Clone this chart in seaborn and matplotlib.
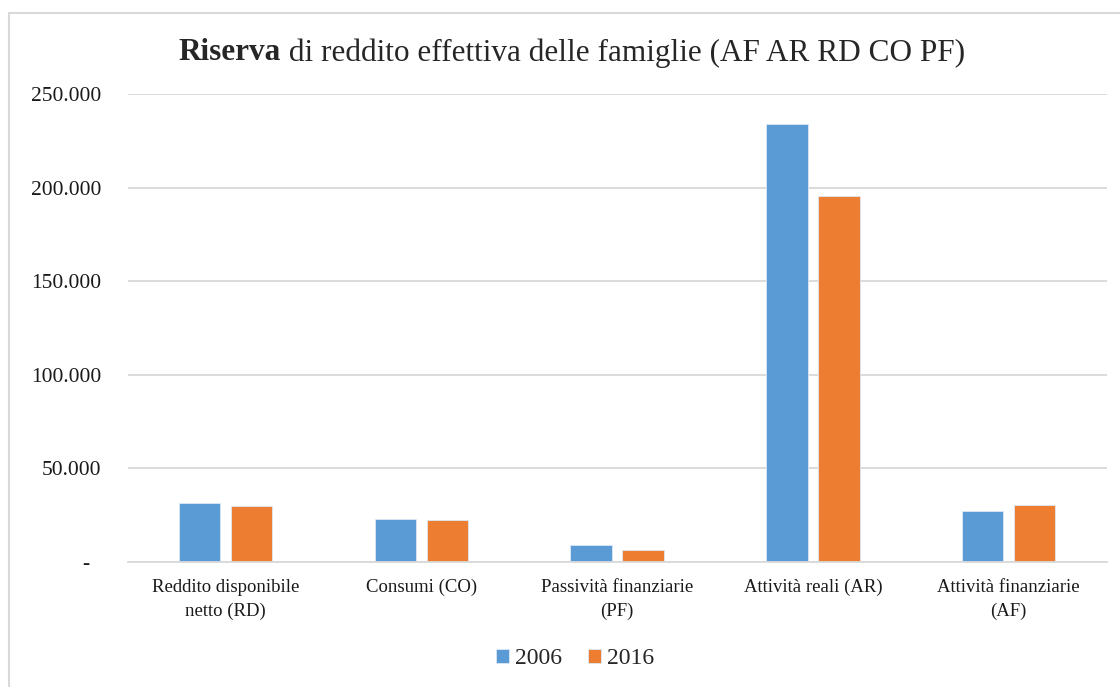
import pandas as pd
import seaborn as sns
import matplotlib.pyplot as plt
from matplotlib.patches import Rectangle
from matplotlib.ticker import FuncFormatter

# dati
categorie = ["Reddito disponibile\nnetto (RD)", "Consumi (CO)",
             "Passività finanziarie\n(PF)", "Attività reali (AR)",
             "Attività finanziarie\n(AF)"]
anni = ["2006", "2016"]
valori_2006 = [31400, 22800, 9100, 234000, 27400]
valori_2016 = [29900, 22300, 6200, 195500, 30300]
colori = ["#5B9BD5", "#ED7D31"]

df = pd.DataFrame({
    "categoria": categorie * 2,
    "anno": [anni[0]] * len(categorie) + [anni[1]] * len(categorie),
    "valore": valori_2006 + valori_2016,
})

sns.set_theme(style="white")
plt.rcParams["font.family"] = ["Liberation Serif", "DejaVu Serif"]

fig = plt.figure(figsize=(11.2, 6.87), dpi=100)
ax = fig.add_axes([0.114, 0.182, 0.874, 0.681])

sns.barplot(data=df, x="categoria", y="valore", hue="anno", palette=colori,
            saturation=1, width=0.53, gap=0.2, edgecolor="#DDE8F5",
            linewidth=0.6, ax=ax)

ax.set_ylim(0, 250000)
ax.set_yticks(range(0, 250001, 50000))
ax.yaxis.set_major_formatter(FuncFormatter(
    lambda v, p: "-  " if v == 0 else f"{int(v):,}".replace(",", ".")))
ax.grid(axis="y", color="#D9D9D9", linewidth=1.3)
ax.set_axisbelow(True)
for s in ["top", "right", "left"]:
    ax.spines[s].set_visible(False)
ax.spines["bottom"].set_color("#D9D9D9")
ax.spines["bottom"].set_linewidth(1.3)
ax.tick_params(axis="y", length=0, pad=19, labelsize=15.5, labelcolor="#1a1a1a")
ax.tick_params(axis="x", length=0, pad=12, labelsize=13.5, labelcolor="#1a1a1a")
for t in ax.get_xticklabels():
    t.set_linespacing(1.5)
ax.set_xlabel("")
ax.set_ylabel("")

ax.legend(loc="lower center", bbox_to_anchor=(0.457, -0.275), ncol=2,
          frameon=False, fontsize=17, handlelength=0.55, handleheight=0.55,
          handletextpad=0.25, columnspacing=1.1, bbox_transform=ax.transAxes)

# titolo con parte in grassetto
fig.canvas.draw()
r = fig.canvas.get_renderer()
t1 = fig.text(0, 0.923, "Riserva", fontsize=22.5, fontweight="bold",
              ha="left", va="center")
t2 = fig.text(0, 0.923, " di reddito effettiva delle famiglie (AF AR RD CO PF)",
              fontsize=22.5, ha="left", va="center")
w1 = t1.get_window_extent(r).width
w2 = t2.get_window_extent(r).width
x0 = (fig.bbox.width * 0.5105 - (w1 + w2) / 2) / fig.bbox.width
t1.set_x(x0)
t2.set_x(x0 + w1 / fig.bbox.width)

# cornice del grafico
fig.patches.append(Rectangle((9 / 1120, -0.02), 1.1, 1 - 13 / 687 + 0.02,
                             transform=fig.transFigure, fill=False,
                             edgecolor="#D9D9D9", linewidth=1.5))

fig.savefig("out.png", dpi=100)
